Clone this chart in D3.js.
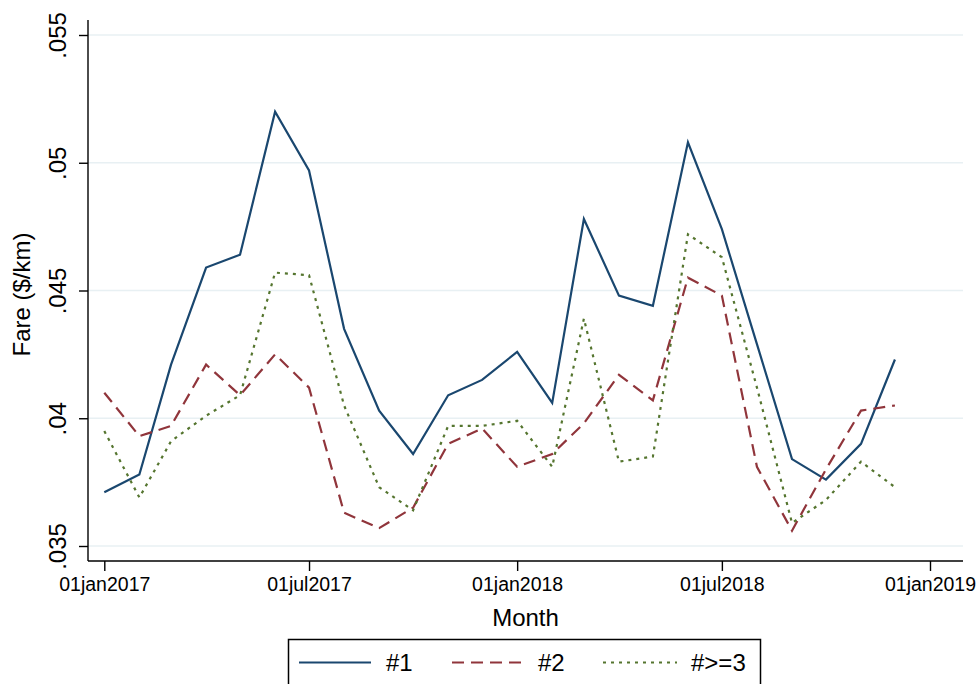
<!DOCTYPE html>
<html>
<head>
<meta charset="utf-8">
<script src="https://cdn.jsdelivr.net/npm/d3@7"></script>
<style>
  body { margin: 0; background: #fff; }
  text { font-family: "Liberation Sans", Arial, sans-serif; fill: #000; }
</style>
</head>
<body>
<div id="chart"></div>
<script>
// Fare per km by month, three groups (Stata-style line chart)
const months = [
  "2017-01", "2017-02", "2017-03", "2017-04", "2017-05", "2017-06",
  "2017-07", "2017-08", "2017-09", "2017-10", "2017-11", "2017-12",
  "2018-01", "2018-02", "2018-03", "2018-04", "2018-05", "2018-06",
  "2018-07", "2018-08", "2018-09", "2018-10", "2018-11", "2018-12"
];
const fare1 = [
  0.0371, 0.0378, 0.0421, 0.0459, 0.0464, 0.0520,
  0.0497, 0.0435, 0.0403, 0.0386, 0.0409, 0.0415,
  0.0426, 0.0406, 0.0478, 0.0448, 0.0444, 0.0508,
  0.0474, 0.0429, 0.0384, 0.0376, 0.0390, 0.0423
];
const fare2 = [
  0.0410, 0.0393, 0.0397, 0.0421, 0.0409, 0.0425,
  0.0412, 0.0363, 0.0357, 0.0365, 0.0390, 0.0396,
  0.0381, 0.0386, 0.0398, 0.0417, 0.0407, 0.0455,
  0.0448, 0.0381, 0.0356, 0.0380, 0.0403, 0.0405
];
const fare3 = [
  0.0395, 0.0369, 0.0391, 0.0401, 0.0409, 0.0457,
  0.0456, 0.0405, 0.0373, 0.0364, 0.0397, 0.0397,
  0.0399, 0.0381, 0.0439, 0.0383, 0.0385, 0.0472,
  0.0463, 0.0412, 0.0359, 0.0368, 0.0383, 0.0373
];
const yTicks = [0.035, 0.04, 0.045, 0.05, 0.055];
const yTickLabels = [".035", ".04", ".045", ".05", ".055"];
const xTicks = ["2017-01-01", "2017-07-01", "2018-01-01", "2018-07-01", "2019-01-01"];
const seriesNames = ["#1", "#2", "#>=3"];

const width = 979, height = 684;
const plot = { left: 88, right: 963, top: 20, bottom: 561 };

const parseMonth = d3.utcParse("%Y-%m");
const parseDay = d3.utcParse("%Y-%m-%d");
const fmtTick = d => d3.utcFormat("%d%b%Y")(d).toLowerCase();

const series = [
  { name: seriesNames[0], values: fare1, color: "#1a476f", dash: null },
  { name: seriesNames[1], values: fare2, color: "#90353b", dash: "12,7" },
  { name: seriesNames[2], values: fare3, color: "#55752f", dash: "3,5" }
];

const svg = d3.select("#chart").append("svg")
  .attr("width", width)
  .attr("height", height);

// Scales: tick positions, axes extend past them
const x = d3.scaleUtc()
  .domain([parseDay("2017-01-01"), parseDay("2019-01-01")])
  .range([104.3, 930]);

const y = d3.scaleLinear()
  .domain([0.035, 0.055])
  .range([546, 35]);

// Gridlines
svg.append("g")
  .selectAll("line")
  .data(yTicks)
  .join("line")
  .attr("x1", plot.left)
  .attr("x2", plot.right)
  .attr("y1", d => y(d))
  .attr("y2", d => y(d))
  .attr("stroke", "#e8f0f3")
  .attr("stroke-width", 1.6);

// Y axis
const yAxis = svg.append("g")
  .attr("transform", `translate(${plot.left},0)`)
  .call(d3.axisLeft(y)
    .tickValues(yTicks)
    .tickSize(9)
    .tickSizeOuter(0)
    .tickFormat((d, i) => yTickLabels[i]));
yAxis.select(".domain").remove();
yAxis.selectAll(".tick line").attr("stroke", "#000").attr("stroke-width", 1.4);
yAxis.selectAll(".tick text")
  .attr("transform", "rotate(-90)")
  .attr("x", 0)
  .attr("y", -22)
  .attr("dy", 0)
  .attr("text-anchor", "middle")
  .style("font-size", "24px")
  .style("font-family", "'Liberation Sans', Arial, sans-serif");

svg.append("line")
  .attr("x1", plot.left).attr("x2", plot.left)
  .attr("y1", plot.top).attr("y2", plot.bottom)
  .attr("stroke", "#000").attr("stroke-width", 1.4);

// X axis
const xAxis = svg.append("g")
  .attr("transform", `translate(0,${plot.bottom})`)
  .call(d3.axisBottom(x)
    .tickValues(xTicks.map(parseDay))
    .tickSize(10)
    .tickSizeOuter(0)
    .tickFormat(fmtTick));
xAxis.select(".domain").remove();
xAxis.selectAll(".tick line").attr("stroke", "#000").attr("stroke-width", 1.4);
xAxis.selectAll(".tick text")
  .attr("y", 30)
  .attr("dy", 0)
  .style("font-size", "19.5px")
  .style("font-family", "'Liberation Sans', Arial, sans-serif");

svg.append("line")
  .attr("x1", plot.left).attr("x2", plot.right)
  .attr("y1", plot.bottom).attr("y2", plot.bottom)
  .attr("stroke", "#000").attr("stroke-width", 1.4);

// Axis titles
svg.append("text")
  .attr("transform", `translate(30,${(plot.top + plot.bottom) / 2 + 4}) rotate(-90)`)
  .attr("text-anchor", "middle")
  .style("font-size", "24px")
  .text("Fare ($/km)");

svg.append("text")
  .attr("x", (plot.left + plot.right) / 2)
  .attr("y", 626)
  .attr("text-anchor", "middle")
  .style("font-size", "24px")
  .text("Month");

// Lines
const line = d3.line()
  .x((d, i) => x(parseMonth(months[i])))
  .y(d => y(d));

series.forEach(s => {
  svg.append("path")
    .datum(s.values)
    .attr("fill", "none")
    .attr("stroke", s.color)
    .attr("stroke-width", 2.2)
    .attr("stroke-dasharray", s.dash)
    .attr("d", line);
});

// Legend
const legend = svg.append("g");
legend.append("rect")
  .attr("x", 288.5).attr("y", 639.5)
  .attr("width", 472).attr("height", 60)
  .attr("fill", "#fff")
  .attr("stroke", "#000")
  .attr("stroke-width", 1.5);

const legendItems = [
  { x1: 299, x2: 371, tx: 386 },
  { x1: 452, x2: 525, tx: 538 },
  { x1: 603, x2: 677, tx: 691 }
];
series.forEach((s, i) => {
  const it = legendItems[i];
  legend.append("line")
    .attr("x1", it.x1).attr("x2", it.x2)
    .attr("y1", 662.5).attr("y2", 662.5)
    .attr("stroke", s.color)
    .attr("stroke-width", 2.2)
    .attr("stroke-dasharray", s.dash);
  legend.append("text")
    .attr("x", it.tx)
    .attr("y", 671)
    .style("font-size", "24px")
    .text(s.name);
});
</script>
</body>
</html>
